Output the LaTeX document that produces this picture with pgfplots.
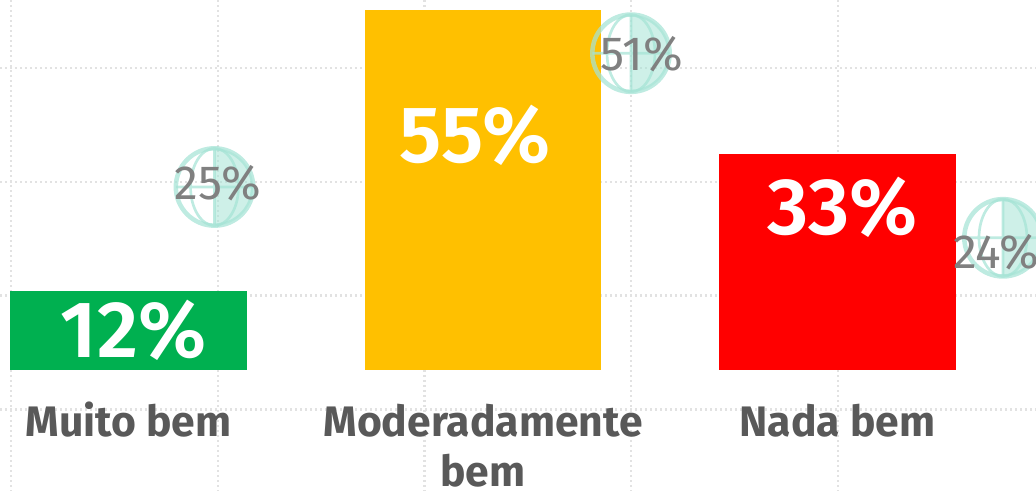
\documentclass[border=0pt]{standalone}
\usepackage{pgfplots}
\usepackage{pgfplotstable}
\usepackage{fontspec}
\pgfplotsset{compat=1.18}
\setmainfont{Fira Sans}
\newfontfamily\firasemi{Fira Sans SemiBold}

\definecolor{barGreen}{HTML}{00B050}
\definecolor{barYellow}{HTML}{FFC000}
\definecolor{barRed}{HTML}{FF0000}
\definecolor{labGray}{HTML}{595959}
\definecolor{refGray}{HTML}{808080}
\definecolor{gridDot}{HTML}{E2E2E2}
\definecolor{globeLine}{HTML}{A5E3D5}

% x is in category units, y in percent of the bar scale
\pgfplotstableread{
x y val
0.0141 6.1 12
0.9774 35.9 55
2.0140 24.9 33
}\barlabels
\pgfplotstableread{
x y
0.2426 27.96
1.4175 48.40
2.4668 20.20
}\globes
\pgfplotstableread{
x y val
0.2524 28.6 25
1.4485 48.3 51
2.4471 18.0 24
}\reflabels

\pgfdeclareplotmark{globe}{%
  \pgfsetfillopacity{0.55}\pgfsetstrokeopacity{0.72}%
  \pgfsetstrokecolor{globeLine}\pgfsetfillcolor{globeLine}%
  \pgfsetlinewidth{3.4pt}%
  % shaded right half
  \pgfpathmoveto{\pgfpoint{0pt}{-\pgfplotmarksize}}%
  \pgfpatharc{-90}{90}{\pgfplotmarksize}%
  \pgfpathclose
  \pgfusepath{fill}%
  \pgfpathcircle{\pgfpointorigin}{\pgfplotmarksize}%
  \pgfusepath{stroke}%
  \pgfsetlinewidth{2pt}%
  \pgfpathellipse{\pgfpointorigin}{\pgfpoint{0.62\pgfplotmarksize}{0pt}}{\pgfpoint{0pt}{\pgfplotmarksize}}%
  \pgfpathmoveto{\pgfpoint{0pt}{-\pgfplotmarksize}}%
  \pgfpathlineto{\pgfpoint{0pt}{\pgfplotmarksize}}%
  \pgfpathmoveto{\pgfpoint{-\pgfplotmarksize}{0pt}}%
  \pgfpathlineto{\pgfpoint{\pgfplotmarksize}{0pt}}%
  \pgfusepath{stroke}%
}

\newcommand{\firstline}{\rule{0pt}{1em}}

\begin{document}
\begin{tikzpicture}
\path[use as bounding box] (0,0) rectangle (777pt,368.25pt);
% dotted grid, in image pixels
\begin{axis}[
  at={(0,0)}, anchor=south west,
  scale only axis, width=777pt, height=368.25pt,
  xmin=0, xmax=1036, ymin=0, ymax=491, y dir=reverse,
  xtick={11,218,424.5,631,838}, ytick={68,182,295.5,409.5},
  xticklabels={}, yticklabels={},
  major tick length=0pt, axis line style={draw=none},
  grid=major,
  grid style={gridDot,line width=1.9pt,dash pattern=on 1.7pt off 2.05pt},
]
\end{axis}
\begin{axis}[
  at={(0,90.75pt)}, anchor=south west,
  scale only axis, width=777pt, height=277.5pt,
  xmin=-0.3625, xmax=2.56, ymin=0, ymax=56.53,
  xtick={0,1,2}, ytick=\empty,
  xticklabels={\firstline Muito bem,\firstline Moderadamente\\bem,\firstline Nada bem},
  x tick label style={font=\bfseries\fontsize{32}{37.5}\selectfont,text=labGray,
    align=center,inner sep=0pt,yshift=-17.5pt},
  major tick length=0pt, axis line style={draw=none},
  clip=false,
  ybar, bar width=177.5pt, bar shift=0pt,
]
\addplot[draw=none,fill=barGreen] coordinates {(0,12)};
\addplot[draw=none,fill=barYellow] coordinates {(1,55)};
\addplot[draw=none,fill=barRed] coordinates {(2,33)};
\addplot[forget plot,only marks,mark=globe,mark size=29pt] table[x=x,y=y] {\globes};
\addplot[forget plot,only marks,mark=none,point meta=explicit,
  nodes near coords={\pgfmathprintnumber[assume math mode=true]{\pgfplotspointmeta}\%},
  nodes near coords style={anchor=center,inner sep=0pt,text=refGray,
    font=\fontsize{36}{40}\selectfont}]
  table[x=x,y=y,meta=val] {\reflabels};
\addplot[forget plot,only marks,mark=none,point meta=explicit,
  nodes near coords={\pgfmathprintnumber[assume math mode=true]{\pgfplotspointmeta}\%},
  nodes near coords style={anchor=center,inner sep=0pt,text=white,
    font=\firasemi\fontsize{60}{64}\selectfont}]
  table[x=x,y=y,meta=val] {\barlabels};
\end{axis}
\end{tikzpicture}
\end{document}
